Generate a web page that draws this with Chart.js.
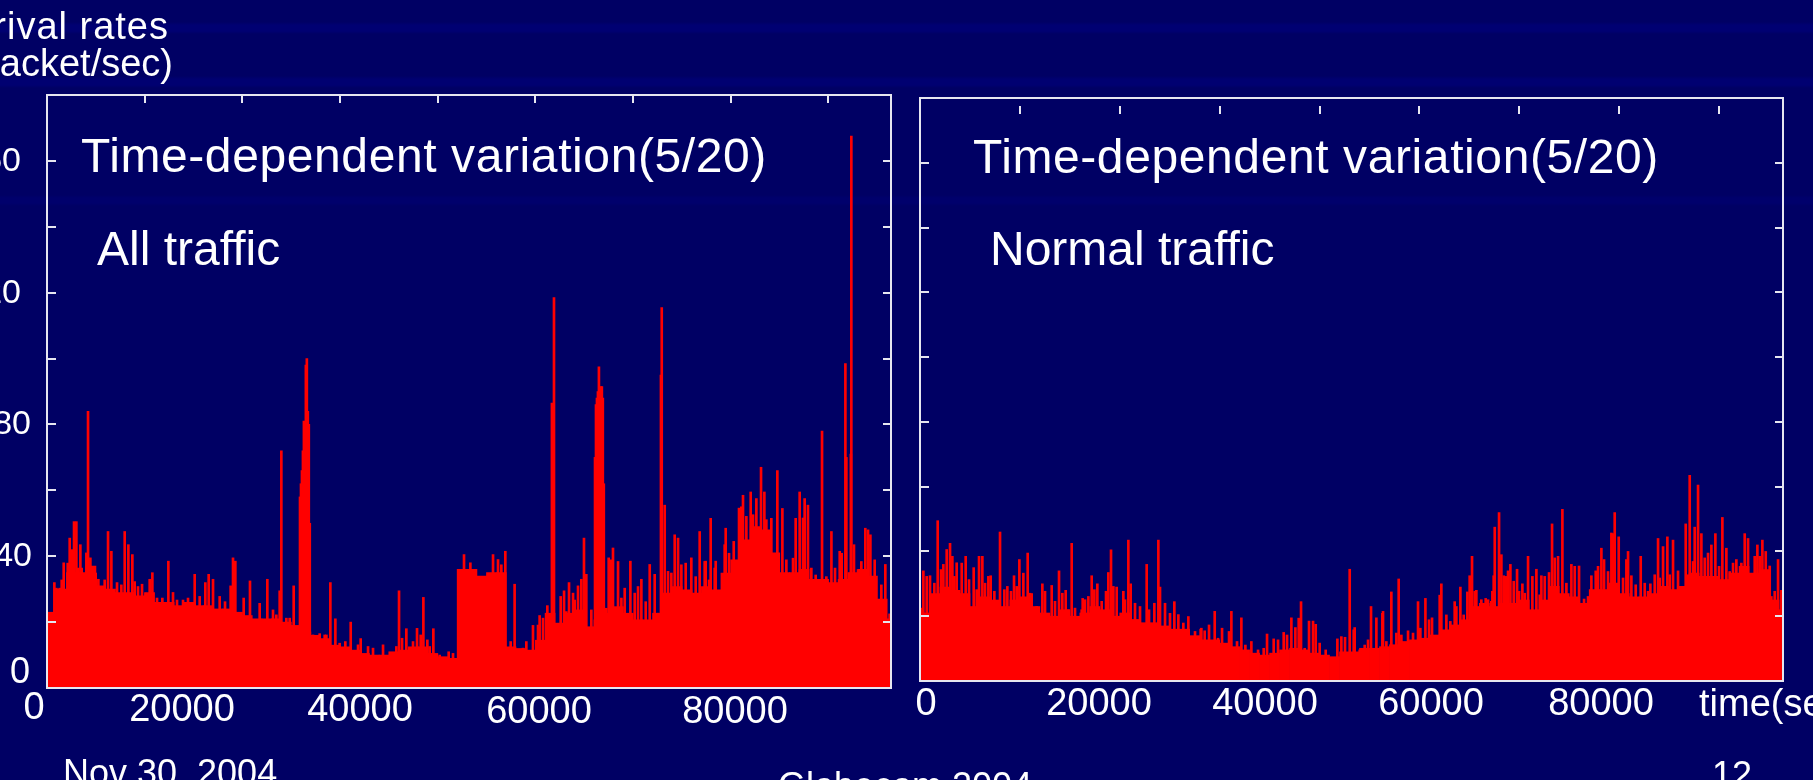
<!DOCTYPE html>
<html>
<head>
<meta charset="utf-8">
<script src="https://cdn.jsdelivr.net/npm/chart.js@4.4.1/dist/chart.umd.min.js"></script>
<style>
html, body { margin: 0; padding: 0; }
body {
    width: 1813px; height: 780px; overflow: hidden; position: relative;
    font-family: 'Liberation Sans', Arial, sans-serif;
    background: linear-gradient(to bottom,
        #000064 0px, #000064 22px, #000072 25px, #000072 31px, #000064 34px,
        #000064 76px, #000071 79px, #000071 85px, #000064 88px,
        #000064 195px, #00006c 198px, #00006c 203px, #000064 206px,
        #000064 100%);
}
canvas { position: absolute; left: 0; top: 0; }
.t { position: absolute; color: #fff; line-height: 1; white-space: nowrap; }
</style>
</head>
<body>
<canvas id="allTraffic" width="1813" height="780"></canvas>
<canvas id="normalTraffic" width="1813" height="780"></canvas>

<div class="t" style="right:1644px; top:7px; font-size:38px; letter-spacing:1px;">arrival rates</div>
<div class="t" style="right:1640px; top:44px; font-size:38px;">(packet/sec)</div>
<div class="t" style="left:81px; top:132px; font-size:48px; letter-spacing:0.6px;">Time-dependent variation(5/20)</div>
<div class="t" style="left:97px; top:225px; font-size:48px;">All traffic</div>
<div class="t" style="left:973px; top:133px; font-size:48px; letter-spacing:0.6px;">Time-dependent variation(5/20)</div>
<div class="t" style="left:990px; top:225px; font-size:48px;">Normal traffic</div>
<div class="t" style="right:1783px; top:653px; font-size:36px;">0</div>
<div class="t" style="left:1699px; top:684px; font-size:38px;">time(sec)</div>
<div class="t" style="left:63px; top:755px; font-size:36px;">Nov 30, 2004</div>
<div class="t" style="left:778px; top:768px; font-size:36px;">Globecom 2004</div>
<div class="t" style="left:1712px; top:757px; font-size:36px;">12</div>

<script>
// packet rate per 1000 s bin, dense part of the trace
var binSec = 1000;
var allBase = [23, 30, 35, 35, 37, 31, 30, 29, 29, 28, 29, 26, 26, 25, 26, 25, 25, 24, 24, 23,
    22, 21, 21, 21, 20, 19, 17, 16, 15, 13, 12.5, 11.5, 10.5, 10, 10, 11, 11.5, 12.5, 12.5, 10.5,
    9.5, 9, 36, 36, 34, 35, 35, 12.5, 12, 11.5, 14.5, 22.7, 19.7, 22.7, 23.7, 18.6, 20.7, 22.7, 24.7, 22.7,
    20.7, 20.7, 22.7, 28.8, 30.8, 29.8, 28.8, 30.8, 29.8, 34.9, 38.9, 45, 49, 48, 41, 35, 35, 36, 33, 33,
    32, 33, 35, 36, 34, 27, 21];
var normalBase = [21, 27, 29, 28, 27, 23, 26, 25, 23, 25, 26, 23, 21, 20, 22, 20, 21, 23, 22, 20,
    21, 19, 18, 18, 17, 16, 16, 14, 12.7, 12.7, 11.7, 10.6, 9.6, 8.6, 8, 8.6, 9.6, 10.1, 9.6, 8.6,
    8, 7.5, 9, 9, 10.1, 10.1, 10.6, 11.2, 12.2, 12.7, 13.2, 14.2, 15.8, 17.3, 18.9, 23, 24, 23, 24, 24,
    25, 22, 25, 29.2, 27, 26, 24, 28.2, 28.2, 30.2, 27, 26, 26, 27, 29.2, 28.2, 29.2, 33.3, 32.3, 32.3,
    31.3, 33.3, 35.4, 33.3, 34.4, 25, 18.4];

// single spikes: [time (sec), packets/sec]
var allPeaks = [[754, 32], [1710, 38], [2324, 45.5], [2767, 50.5], [3006, 50.5], [3416, 43.5], [4030, 41],
    [4200, 84], [4440, 39.5], [5258, 33], [6248, 47.5], [6589, 41.5], [7169, 32], [7954, 47.5], [8329, 43.5],
    [8738, 40.5], [9728, 31.5], [10512, 33], [10786, 35], [12424, 38.5], [12900, 29], [15120, 34.5],
    [16210, 32], [16550, 34.5], [16997, 33], [18800, 31], [19042, 39.5], [19280, 38.5], [20780, 32.5],
    [22556, 33], [23820, 29.5], [23990, 72], [25253, 31],
    [25900, 58], [26000, 62], [26100, 66], [26200, 72], [26300, 81], [26400, 80], [26500, 98], [26600, 100],
    [26700, 84], [26800, 80], [26900, 50],
    [27915, 16.5], [29008, 32], [29520, 21], [31090, 20], [32113, 15], [36037, 29.5], [36787, 18],
    [38528, 27.5], [39551, 18], [42690, 40.5], [43340, 38], [45660, 40.5], [46170, 39], [46920, 41.5],
    [47870, 31.5], [49750, 19], [50430, 22], [51220, 25], [51690, 86.5], [51900, 118.5], [52930, 29.5],
    [53440, 32], [54360, 31], [54700, 33], [54970, 45.5], [55210, 34.5],
    [56100, 70], [56200, 86], [56300, 88], [56400, 90], [56500, 97.5], [56600, 90], [56700, 91.5],
    [56800, 91.5], [56900, 88], [57000, 62],
    [57500, 39.5], [57940, 42.5], [59720, 38.5], [60845, 33], [61700, 37.5], [62210, 34.5], [62850, 95],
    [62930, 115.5], [63234, 55.5], [64257, 46.5], [64600, 45.5], [65960, 39.5], [66816, 47.5], [67430, 38.5],
    [67940, 51.5], [68455, 38.5], [69478, 48.5], [70300, 44.5], [71080, 55], [71250, 58.5], [72037, 59.5],
    [72617, 57.5], [73095, 67], [73436, 59.5], [74150, 51.5], [74766, 66], [75280, 54.5], [76640, 51.5],
    [77050, 59.5], [77560, 57.5], [77900, 55.5], [79340, 78], [80300, 47.5], [81150, 41.5], [81730, 98.5],
    [81830, 70], [82290, 71], [82340, 167.5], [82610, 43.5], [83770, 48.5], [84290, 46.5], [85820, 37.5],
    [86260, 22.5]];
// smaller spikes inside the dense band
var allMinor = [[959, 30.3], [1300, 30.3], [1505, 32.8], [2120, 37.9], [2528, 42], [3177, 36.4], [3552, 36.4],
    [4712, 32.8], [4985, 34.9], [5565, 28.8], [5906, 32.8], [6930, 28.8], [7612, 31.3], [8977, 32.3],
    [9318, 30.8], [10103, 28.8], [11263, 27.3], [11809, 27.3], [13310, 26.7], [13925, 26.7], [14436, 27.3],
    [15630, 27.8], [17678, 27.8], [18224, 26.2], [19725, 22.7], [20135, 27.3], [21772, 25.7], [23137, 23.7],
    [23478, 22.2], [24502, 21.2], [24843, 21.2], [27231, 16.1], [28426, 16.1], [28600, 16.1], [29960, 13.6],
    [30540, 14.1], [31840, 13.1], [32864, 12.6], [33375, 12.1], [34400, 13.1], [35764, 12.6], [36344, 15.1],
    [37470, 14.1], [37880, 18.1], [38255, 16.1], [38937, 14.6], [39176, 12.6], [40200, 10], [41120, 11],
    [41564, 10.5], [46510, 37.4], [47468, 14.1], [48730, 12.1], [49070, 14.1], [50265, 19.1], [50776, 21.2],
    [52585, 27.8], [53165, 23.2], [53850, 28.8], [54020, 26.7], [55725, 23.7], [57260, 24.2], [57700, 38.9],
    [58457, 38.4], [58800, 27.3], [59140, 30.3], [60163, 28.8], [60504, 30.8], [61289, 26.2], [62550, 22.7],
    [63575, 35.4], [63916, 34.9], [64940, 37.4], [65383, 37.9], [66407, 33.8], [67328, 38.4], [67772, 32.8],
    [68352, 36.4], [68864, 28.8], [69375, 43.5], [69819, 40.9], [70842, 54.6], [71593, 52.1], [72275, 52.6],
    [73640, 51.1], [74391, 38.4], [75688, 38.9], [76370, 39.4], [77394, 51.6], [78247, 36.4], [78690, 34.3],
    [79782, 33.8], [80670, 36.4], [81352, 40.9], [82170, 34.9], [83024, 35.9], [83365, 38.4], [84047, 48],
    [84730, 38.9], [85412, 31.3]];

var normalPeaks = [[337, 34], [1004, 32.5], [1772, 49.5], [2339, 36], [3007, 42.5], [3240, 38.5], [3674, 36.5],
    [4575, 38.5], [5376, 35], [5910, 38.5], [6243, 38.5], [7077, 32.5], [8012, 46], [9413, 32.5], [9948, 37.5],
    [10782, 39.5], [11180, 27], [12250, 30], [13185, 29.5], [13918, 34], [14586, 28], [15187, 42.5],
    [16288, 25.5], [17189, 32.5], [17756, 30], [18857, 33.5], [19124, 40.5], [19692, 29], [20860, 43.5],
    [21093, 30], [22695, 36], [23864, 43.5], [24030, 29], [25465, 24.5], [25866, 20.5], [28100, 16],
    [28500, 15.5], [29505, 21.5], [31173, 21.5], [32174, 19.5], [34744, 14.5], [35411, 13], [36412, 15],
    [37180, 19.5], [37580, 16.5], [38147, 24.5], [38948, 18.5], [39350, 18.5], [39616, 17.5], [41785, 13],
    [42552, 13.5], [43020, 34.5], [43520, 16.5], [45155, 23], [45690, 19.5], [46357, 21.5], [47190, 27.5],
    [47925, 31.5], [48860, 15.5], [49860, 24.5], [50600, 25.5], [51262, 19.5], [52030, 26.5], [52196, 30],
    [53530, 24.5], [54100, 29], [54800, 27.5], [55030, 32.5], [55266, 38.5], [55700, 28], [56635, 25.5],
    [57436, 32.5], [57540, 47.5], [57972, 52], [58206, 39], [58440, 32.5], [58873, 34], [59107, 36],
    [59774, 34.5], [60308, 30], [60875, 38.5], [61710, 34.5], [62210, 32.5], [62977, 33.5], [63278, 48.5],
    [63879, 38.5], [64313, 53], [65214, 36], [65981, 35.5], [67216, 32.5], [67650, 34], [68217, 41],
    [68484, 37.5], [69385, 45.5], [69551, 52], [69952, 44.5], [70887, 40], [71220, 32.5], [72155, 38.5],
    [73122, 30], [73890, 44], [74390, 41.5], [74824, 44.5], [75390, 43.5], [75890, 34], [76660, 48.5],
    [77060, 63.5], [77560, 47.5], [77895, 60.5], [78228, 45.5], [79230, 42], [79630, 45.5], [80330, 50.5],
    [80730, 41], [81730, 37.5], [82567, 45.5], [82900, 44], [83835, 42], [84335, 43.5], [84670, 40],
    [85070, 35.5], [85904, 37.5], [86238, 28]];
var normalMinor = [[170, 22.5], [671, 32.3], [1438, 30.2], [2106, 34.4], [2673, 40.6], [3440, 32.3], [4175, 36.4],
    [4909, 31.3], [5676, 28.2], [6510, 30.2], [6844, 32.3], [7445, 27.7], [8446, 28.2], [8746, 29.2],
    [9113, 27.7], [9680, 29.2], [10348, 33.3], [11015, 27.1], [11683, 23], [12517, 27.7], [13518, 24.6],
    [14252, 27.1], [14853, 22], [15520, 22.5], [16188, 22], [16522, 25.1], [16856, 26.1], [17456, 28.2],
    [18190, 24.6], [18624, 27.7], [19358, 29.2], [20359, 27.7], [20526, 25.1], [21527, 24], [22028, 23],
    [22929, 22], [23463, 24], [24531, 24], [25030, 20.9], [26365, 17.9], [26867, 19.9], [27534, 15.3],
    [28170, 16.3], [28937, 17.3], [29838, 13.2], [30239, 16.3], [30940, 15.3], [31740, 12.2], [32575, 11.1],
    [33175, 12.2], [33843, 9.6], [34410, 10.1], [35845, 12.7], [36746, 14.2], [37914, 19.4], [38515, 10.1],
    [40016, 11.7], [40617, 9.6], [41350, 7], [42185, 13.7], [43420, 15.8], [44020, 9.6], [44521, 11.1],
    [44855, 12.7], [46290, 20.9], [46690, 12.2], [47692, 14.8], [48192, 14.2], [49360, 14.8], [50093, 16.3],
    [50961, 18.9], [51530, 13.2], [52697, 20.4], [53097, 18.4], [53698, 23], [54432, 20.4], [55533, 27.7],
    [56200, 25.1], [56870, 25.1], [57200, 24.6], [57305, 27.7], [58640, 32.3], [59440, 30.8], [59974, 27.7],
    [60542, 27.1], [61309, 32.3], [62043, 26.6], [62544, 32.3], [63545, 38], [64713, 30.2], [65547, 35.4],
    [66482, 25.3], [66882, 26.1], [67883, 35.4], [68884, 33.8], [69218, 45.7], [70386, 31.8], [70720, 37.5],
    [71654, 29.7], [72555, 30.2], [72889, 27.7], [73556, 32.8], [74057, 31.8], [75058, 32.8], [76326, 27.1],
    [76893, 32.8], [77394, 36.9], [78562, 38], [78896, 39.5], [79997, 35.4], [81064, 33.8], [81398, 36.4],
    [82232, 36.4], [83233, 32.8], [83567, 38.5], [84067, 38.5], [85235, 26.1], [85569, 27.7], [86069, 22]];

var xTickValues = [10000, 20000, 30000, 40000, 50000, 60000, 70000, 80000];
var yLabelValues = [40, 80, 120, 160];
var yLabelRight = [32, 31, 21, 21];
var xTickText = ['0', '20000', '40000', '60000', '80000'];
var xLabelPosAll = [34, 182, 360, 539, 735];
var xLabelTopAll = [687, 689, 689, 691, 691];
var xLabelPosNormal = [926, 1099, 1265, 1431, 1601];

Chart.defaults.font.family = "'Liberation Sans', Arial, sans-serif";
Chart.defaults.color = '#ffffff';

// frame + inward tick marks, like the gnuplot box
var boxPlugin = {
    id: 'box',
    afterDatasetsDraw: function (chart, args, opts) {
        var ctx = chart.ctx, a = chart.chartArea;
        var x = chart.scales.x, y = chart.scales.y;
        ctx.save();
        ctx.strokeStyle = '#e6e6f0';
        ctx.lineWidth = 2;
        ctx.strokeRect(a.left, a.top, a.right - a.left, a.bottom - a.top);
        ctx.beginPath();
        x.ticks.forEach(function (t) {
            var px = Math.round(x.getPixelForValue(t.value));
            if (px <= a.left + 2 || px >= a.right - 2) return;
            ctx.moveTo(px, a.top + opts.topGap);
            ctx.lineTo(px, a.top + opts.topGap + 8);
        });
        y.ticks.forEach(function (t) {
            var py = Math.round(y.getPixelForValue(t.value));
            if (py <= a.top + 2 || py >= a.bottom - 2) return;
            ctx.moveTo(a.left, py);
            ctx.lineTo(a.left + 9, py);
            ctx.moveTo(a.right, py);
            ctx.lineTo(a.right - 8, py);
        });
        ctx.stroke();
        ctx.restore();
    }
};

function spikeSet(label, pts) {
    return {
        label: label,
        data: pts.map(function (p) { return { x: p[0], y: p[1] }; }),
        backgroundColor: '#ff0000',
        borderWidth: 0,
        barThickness: 2,
        grouped: false
    };
}

function makeChart(id, base, peaks, minor, pad, topGap, barPx) {
    return new Chart(document.getElementById(id), {
        type: 'bar',
        data: {
            datasets: [{
                label: 'base',
                data: base.map(function (v, i) { return { x: i * binSec + binSec / 2, y: v }; }),
                backgroundColor: '#ff0000',
                borderWidth: 0,
                barThickness: barPx,
                grouped: false
            }, spikeSet('minor', minor), spikeSet('peaks', peaks)]
        },
        options: {
            responsive: false,
            animation: false,
            events: [],
            layout: { padding: pad },
            plugins: {
                legend: { display: false },
                tooltip: { enabled: false },
                box: { topGap: topGap }
            },
            scales: {
                x: {
                    type: 'linear',
                    offset: false,
                    min: 0,
                    max: 86400,
                    display: false,
                    afterBuildTicks: function (s) {
                        s.ticks = xTickValues.map(function (v) { return { value: v }; });
                    }
                },
                y: {
                    min: 0,
                    max: 180,
                    display: false,
                    ticks: { stepSize: 20 }
                }
            }
        },
        plugins: [boxPlugin]
    });
}

var allChart = makeChart('allTraffic', allBase, allPeaks, allMinor, { left: 47, top: 95, right: 922, bottom: 92 }, 0, 10);
makeChart('normalTraffic', normalBase, normalPeaks, normalMinor, { left: 920, top: 98, right: 30, bottom: 99 }, 8, 10);

function addText(txt, css) {
    var d = document.createElement('div');
    d.className = 't';
    for (var k in css) d.style[k] = css[k];
    d.textContent = txt;
    document.body.appendChild(d);
}

// y labels of the left plot, placed on its own y scale
yLabelValues.forEach(function (v, i) {
    var py = allChart.scales.y.getPixelForValue(v);
    addText(String(v), { right: (1813 - yLabelRight[i]) + 'px', top: (py - 19) + 'px', fontSize: '34px' });
});

// x labels were typed on the slide, not on the plot's own scale
function addLabels(centers, tops) {
    centers.forEach(function (c, i) {
        addText(xTickText[i], { left: c + 'px', top: tops[i] + 'px', fontSize: '38px', transform: 'translateX(-50%)' });
    });
}
addLabels(xLabelPosAll, xLabelTopAll);
addLabels(xLabelPosNormal, [683, 683, 683, 683, 683]);
</script>
</body>
</html>
